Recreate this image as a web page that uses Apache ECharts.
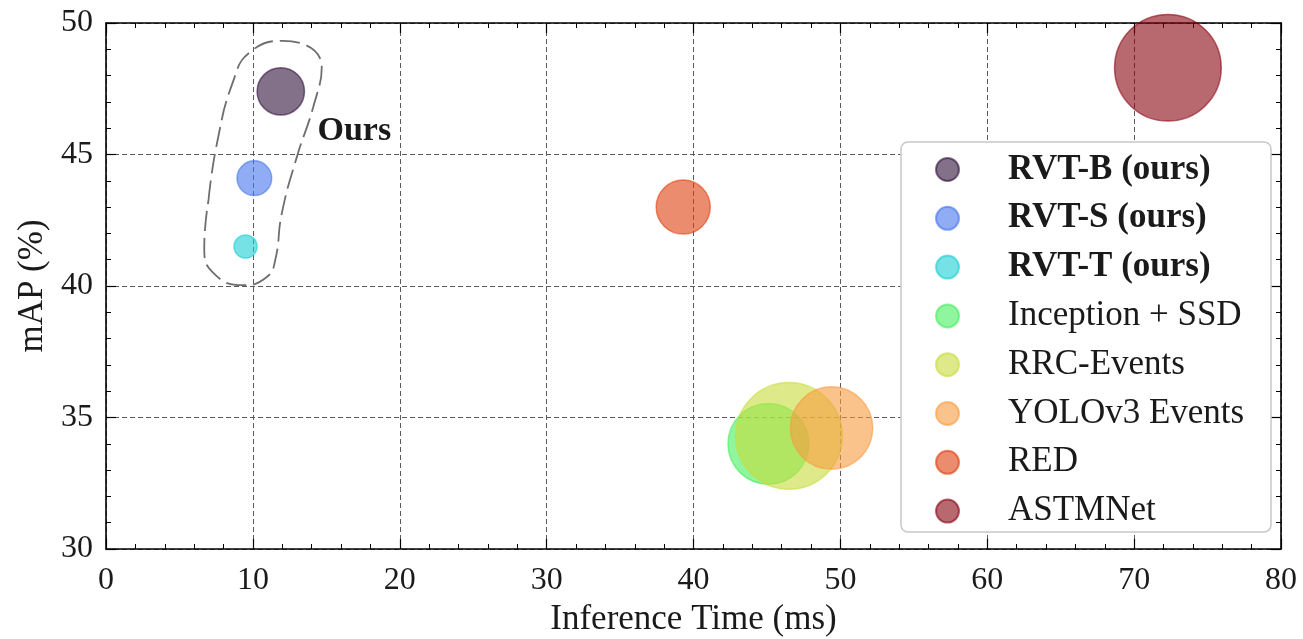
<!DOCTYPE html>
<html>
<head>
<meta charset="utf-8">
<script src="https://cdn.jsdelivr.net/npm/echarts@6/dist/echarts.min.js"></script>
<style>
html,body{margin:0;padding:0;background:#fff;}
#c{width:1303px;height:639px;}
</style>
</head>
<body>
<div id="c"></div>
<script>
// ---- data ----
const names = ['RVT-B (ours)', 'RVT-S (ours)', 'RVT-T (ours)', 'Inception + SSD', 'RRC-Events', 'YOLOv3 Events', 'RED', 'ASTMNet'];
const inferenceMs = [11.9, 10.1, 9.5, 45.1, 46.5, 49.4, 39.3, 72.3];
const mAP = [47.4, 44.1, 41.5, 34.0, 34.3, 34.6, 43.0, 48.3];
const paramsM = [18.5, 9.9, 4.4, 54, 94, 56, 24.1, 94];
const oursOutline = [
  [6.98, 43.26], [7.55, 45.41], [8.68, 47.82], [9.82, 48.90], [12.06, 49.32], [14.69, 48.33],
  [14.10, 46.79], [12.99, 44.90], [11.97, 42.76], [11.52, 40.98], [10.95, 40.34], [9.36, 40.03],
  [7.32, 40.49], [6.69, 41.48], [6.98, 43.26]
];
const oursLabel = [14.4, 45.88];
const xTicks = {min: 0, max: 80, step: 10};
const yTicks = {min: 30, max: 50, step: 5};

// ---- styles ----
const colors = ['#30123b', '#4675ed', '#1bcfd4', '#45ee5e', '#c8dc3c', '#f89b40', '#df400e', '#880510'];
const FONT = '"Liberation Serif", "DejaVu Serif", serif';
const FS = 32;     // tick labels
const FSN = 35;    // axis names / legend
const TXT = '#1a1a1a';

const chart = echarts.init(document.getElementById('c'), null, {renderer: 'canvas'});

function axisCommon(pos, t, isMain) {
  return {
    type: 'value', position: pos, min: t.min, max: t.max, interval: t.step,
    axisLine: {show: true, onZero: false, lineStyle: {color: '#000', width: 1.6}},
    axisTick: {show: true, inside: true, length: 10, lineStyle: {color: '#000', width: 1.2}},
    minorTick: {show: true, splitNumber: 5, length: 5, lineStyle: {color: '#000', width: 1}},
    splitLine: {show: isMain, lineStyle: {color: '#5a5a5a', type: [5, 3], width: 1}},
    axisLabel: {show: isMain, fontFamily: FONT, fontSize: FS, color: TXT},
  };
}

const xMain = Object.assign(axisCommon('bottom', xTicks, true), {
  name: 'Inference Time (ms)', nameLocation: 'middle', nameGap: 44,
  nameTextStyle: {fontFamily: FONT, fontSize: FSN, color: TXT}
});
xMain.axisLabel.margin = 16;
const yMain = Object.assign(axisCommon('left', yTicks, true), {
  name: 'mAP (%)', nameLocation: 'middle', nameGap: 53,
  nameTextStyle: {fontFamily: FONT, fontSize: FSN, color: TXT}
});
yMain.axisLabel.margin = 13;

const series = names.map((n, i) => ({
  name: n, type: 'scatter', z: 3,
  data: [[inferenceMs[i], mAP[i], paramsM[i]]],
  symbolSize: v => 11 * Math.sqrt(v[2]),
  itemStyle: {color: colors[i], opacity: 0.6, borderColor: colors[i], borderWidth: 1.5},
  emphasis: {disabled: true}
}));

series.push({
  type: 'line', data: oursOutline, smooth: 0.5, symbol: 'none', silent: true, z: 2,
  lineStyle: {color: '#6e6e6e', width: 1.8, type: [20, 7]}
});

chart.setOption({
  animation: false,
  backgroundColor: '#fff',
  grid: {left: 106, right: 22, top: 23, bottom: 90, containLabel: false, outerBoundsMode: 'none'},
  xAxis: [xMain, axisCommon('top', xTicks, false)],
  yAxis: [yMain, axisCommon('right', yTicks, false)],
  graphic: {elements: [{
    id: 'legendBox', type: 'rect', z: 9, shape: {x: 901, y: 142, width: 370, height: 390, r: 7},
    style: {fill: '#fff', stroke: '#c8c8c8', lineWidth: 1.5}
  }]},
  legend: {
    data: names, orient: 'vertical', left: 935, top: 152, padding: 0, z: 10,
    itemWidth: 23, itemHeight: 23, itemGap: 13.8, icon: 'circle', selectedMode: false,
    formatter: n => (n.indexOf('ours') >= 0 ? '{b|' : '{n|') + n + '}',
    textStyle: {fontFamily: FONT, fontSize: FSN, color: TXT,
      rich: {
        b: {fontFamily: FONT, fontSize: FSN, fontWeight: 'bold', color: TXT, padding: [0, 0, 0, 44]},
        n: {fontFamily: FONT, fontSize: FSN, color: TXT, padding: [0, 0, 0, 44]}
      }}
  },
  series: series
});

// "Ours" annotation placed through the axis scales
const p = chart.convertToPixel({xAxisIndex: 0, yAxisIndex: 0}, oursLabel);
chart.setOption({
  graphic: {elements: [{
    id: 'oursText', type: 'text', z: 5, x: p[0], y: p[1],
    style: {text: 'Ours', fill: TXT, align: 'left', verticalAlign: 'middle',
      font: 'bold 34px "Liberation Serif", "DejaVu Serif", serif'}
  }]}
});
</script>
</body>
</html>
